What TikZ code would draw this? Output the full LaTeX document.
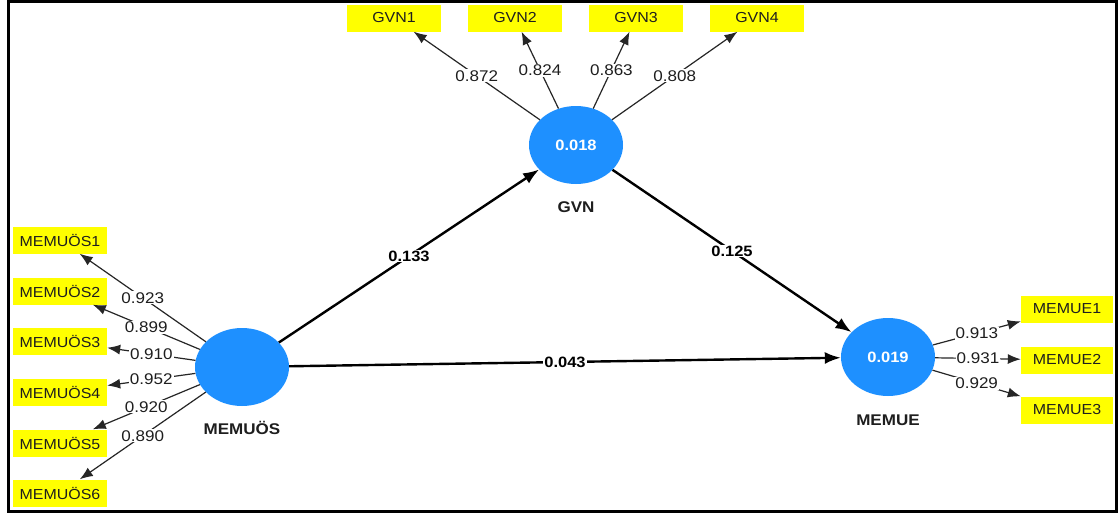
\documentclass[tikz,border=0pt]{standalone}
\usepackage{fontspec}
\setmainfont{Liberation Sans}[FakeStretch=1.1]
\usetikzlibrary{shapes.geometric,arrows.meta}
\definecolor{lvblue}{RGB}{30,144,255}
\definecolor{indyellow}{RGB}{255,255,0}
\definecolor{txt}{RGB}{30,30,30}
\begin{document}
\begin{tikzpicture}[x=1pt,y=-1pt,
  lv/.style={ellipse,fill=lvblue,draw=none,minimum width=94pt,minimum height=78pt,inner sep=0pt,text=white,font=\fontsize{15}{17}\selectfont\bfseries},
  ind/.style={rectangle,fill=indyellow,minimum width=94pt,minimum height=27pt,inner sep=0pt,font=\fontsize{14.5}{16}\selectfont,text=txt},
  lvname/.style={font=\fontsize{15.5}{18}\selectfont\bfseries,text=txt},
  load/.style={draw=black!85,line width=1.2pt,-{Latex[length=13pt,width=10pt]}},
  structarrow/.style={draw=black,line width=2.4pt,-{Latex[length=16pt,width=12pt]}},
  lab/.style={fill=white,inner sep=1pt,font=\fontsize{15.5}{17}\selectfont,text=txt},
  blab/.style={fill=white,inner sep=1pt,font=\fontsize{15}{17}\selectfont\bfseries,text=black}]
\useasboundingbox (0,0) rectangle (1120,517);
\fill[white] (0,0) rectangle (1120,517);
\draw[line width=3pt] (8.5,1.5) rectangle (1116.5,511);

% latent variables
\node[lv] (gvn) at (576,145) {0.018};
\node[lv] (memuos) at (242,367) {};
\node[lv] (memue) at (888,357) {0.019};
\node[lvname] (gvnlab) at (576,207) {GVN};
\node[lvname] (memuoslab) at (242,428) {MEMUÖS};
\node[lvname] (memuelab) at (888,420) {MEMUE};

% indicators
\node[ind] (gvn1) at (394,18) {GVN1};
\node[ind] (gvn2) at (515,18) {GVN2};
\node[ind] (gvn3) at (636,18) {GVN3};
\node[ind] (gvn4) at (757,18) {GVN4};
\node[ind] (m1) at (60,240) {MEMUÖS1};
\node[ind] (m2) at (60,291) {MEMUÖS2};
\node[ind] (m3) at (60,341) {MEMUÖS3};
\node[ind] (m4) at (60,392) {MEMUÖS4};
\node[ind] (m5) at (60,443) {MEMUÖS5};
\node[ind] (m6) at (60,493) {MEMUÖS6};
\node[ind,minimum width=92pt] (e1) at (1067,309) {MEMUE1};
\node[ind,minimum width=92pt] (e2) at (1067,360) {MEMUE2};
\node[ind,minimum width=92pt] (e3) at (1067,410) {MEMUE3};

% loadings
\draw[load] (gvn) -- node[lab] {0.872} (gvn1);
\draw[load] (gvn) -- node[lab] {0.824} (gvn2);
\draw[load] (gvn) -- node[lab] {0.863} (gvn3);
\draw[load] (gvn) -- node[lab] {0.808} (gvn4);
\draw[load] (memuos) -- node[lab] {0.923} (m1);
\draw[load] (memuos) -- node[lab] {0.899} (m2);
\draw[load] (memuos) -- node[lab] {0.910} (m3);
\draw[load] (memuos) -- node[lab] {0.952} (m4);
\draw[load] (memuos) -- node[lab] {0.920} (m5);
\draw[load] (memuos) -- node[lab] {0.890} (m6);
\draw[load] (memue) -- node[lab] {0.913} (e1);
\draw[load] (memue) -- node[lab] {0.931} (e2);
\draw[load] (memue) -- node[lab] {0.929} (e3);

% structural paths
\draw[structarrow] (memuos) -- node[blab] {0.133} (gvn);
\draw[structarrow] (gvn) -- node[blab] {0.125} (memue);
\draw[structarrow] (memuos) -- node[blab] {0.043} (memue);
\end{tikzpicture}
\end{document}
